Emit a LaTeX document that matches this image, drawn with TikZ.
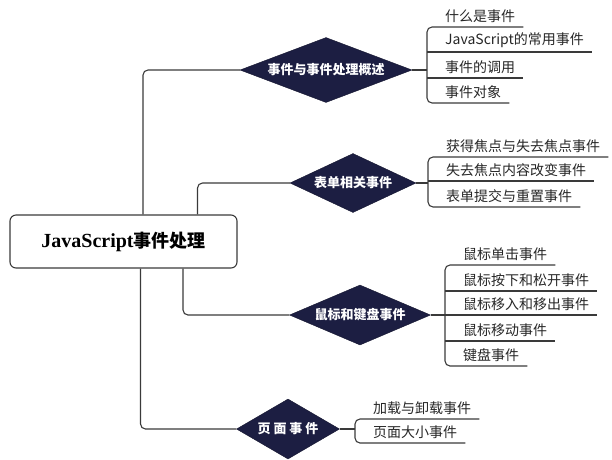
\documentclass[tikz,border=0pt]{standalone}
\usepackage{fontspec}
\setmainfont{Noto Sans CJK SC}
\newfontfamily\latinserif{Liberation Serif}
\usetikzlibrary{shapes.geometric}

\definecolor{navy}{HTML}{1C1E42}
\definecolor{linegray}{HTML}{3A3A3A}

\tikzset{
  topic/.style={diamond, fill=navy, draw=navy!70!black, text=white, inner sep=0pt,
    font=\fontsize{13}{15}\selectfont\bfseries},
  leaf/.style={anchor=south west, inner xsep=0pt, inner ysep=4pt, text=black!85,
    font=\fontsize{14}{16}\selectfont},
  link/.style={draw=linegray, line width=1.1pt, rounded corners=5pt},
}

\begin{document}
\begin{tikzpicture}[x=1pt, y=-1pt]
\useasboundingbox (0,0) rectangle (612,459);

% Tema central
\node[draw=linegray, line width=1.1pt, rounded corners=6pt, minimum width=227pt,
  minimum height=53pt, inner sep=0pt] (root) at (123.5,241.5)
  {{\fontsize{20}{22}\selectfont\latinserif\bfseries JavaScript}{\fontsize{18}{20}\selectfont\bfseries 事件处理}};

% Rombos de cada bloque
\node[topic, aspect=2.65, minimum width=172pt, minimum height=65pt] (d1) at (326,70) {事件与事件处理概述};
\node[topic, aspect=2.14, minimum width=126pt, minimum height=59pt] (d2) at (353,183) {表单相关事件};
\node[topic, aspect=2.35, minimum width=141pt, minimum height=60pt] (d3) at (360,315) {鼠标和键盘事件};
\node[topic, aspect=1.72, minimum width=103pt, minimum height=60pt] (d4) at (288,429) {页 面 事 件};

% Ramas desde el tema central
\draw[link] ([xshift=19.5pt]root.north) |- (d1.west);
\draw[link] ([xshift=74pt]root.north) |- (d2.west);
\draw[link] ([xshift=59.5pt]root.south) |- (d3.west);
\draw[link] ([xshift=17pt]root.south) |- (d4.west);

% Hojas del primer bloque
\node[leaf] (a1) at (445,27) {什么是事件};
\node[leaf] (a2) at (445,52) {JavaScript的常用事件};
\node[leaf] (a3) at (445,78) {事件的调用};
\node[leaf] (a4) at (445,103) {事件对象};

% Hojas del segundo bloque
\node[leaf] (b1) at (446,157) {获得焦点与失去焦点事件};
\node[leaf] (b2) at (446,181) {失去焦点内容改变事件};
\node[leaf] (b3) at (446,207) {表单提交与重置事件};

% Hojas del tercer bloque
\node[leaf] (c1) at (463,265) {鼠标单击事件};
\node[leaf] (c2) at (463,291) {鼠标按下和松开事件};
\node[leaf] (c3) at (463,315) {鼠标移入和移出事件};
\node[leaf] (c4) at (463,341) {鼠标移动事件};
\node[leaf] (c5) at (463,366) {键盘事件};

% Hojas del cuarto bloque
\node[leaf] (e1) at (373,419) {加载与卸载事件};
\node[leaf] (e2) at (373,443) {页面大小事件};

% Corchetes: primera y ultima hoja de cada bloque
\foreach \top/\bot in {a1/a4, b1/b3, c1/c5, e1/e2}
  \draw[link] ([xshift=8pt]\top.south east) -- ([xshift=-18pt]\top.south west)
    -- ([xshift=-18pt]\bot.south west) -- ([xshift=8pt]\bot.south east);

% Subrayado de las hojas del medio
\foreach \n in {a2, a3, b2, c2, c3, c4}
  \draw[link] ([xshift=-18pt]\n.south west) -- ([xshift=8pt]\n.south east);

% Union rombo -> corchete
\coordinate (g1) at ([xshift=-18pt]a1.south west);
\coordinate (g2) at ([xshift=-18pt]b1.south west);
\coordinate (g3) at ([xshift=-18pt]c1.south west);
\coordinate (g4) at ([xshift=-18pt]e1.south west);
\draw[link] (d1.east) -- (d1.east -| g1);
\draw[link] (d2.east) -- (d2.east -| g2);
\draw[link] (d3.east) -- (d3.east -| g3);
\draw[link] (d4.east) -- (d4.east -| g4);
\end{tikzpicture}
\end{document}
